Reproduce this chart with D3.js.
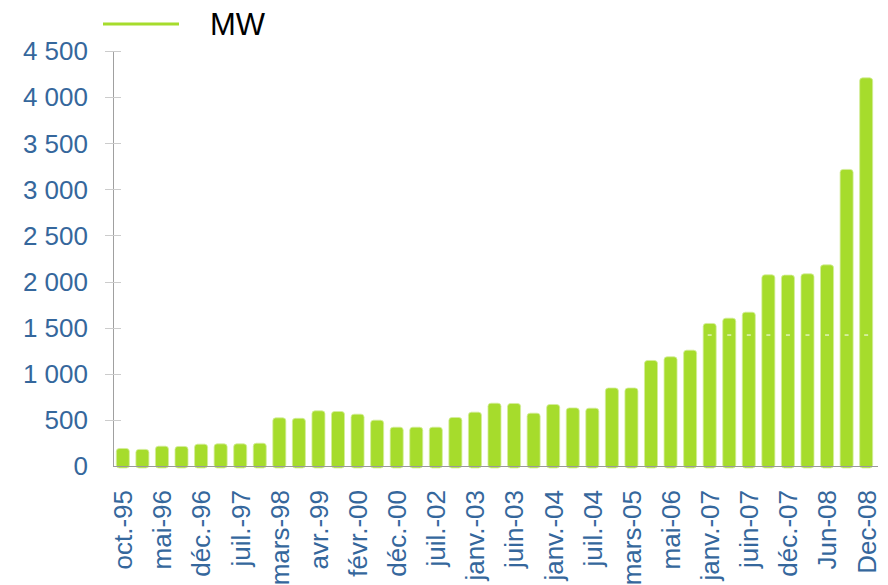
<!DOCTYPE html>
<html>
<head>
<meta charset="utf-8">
<script src="https://cdn.jsdelivr.net/npm/d3@7"></script>
<style>
  body { margin:0; background:#fff; }
  svg { display:block; font-family:"Liberation Sans", Arial, sans-serif; }
</style>
</head>
<body>
<svg id="chart" width="888" height="585"></svg>
<script>
var months = ['oct.-95','janv.-96','mai-96','sept.-96','déc.-96','mars-97','juil.-97','déc.-97',
  'mars-98','oct.-98','avr.-99','oct.-99','févr.-00','juin-00','déc.-00','déc.-01','juil.-02',
  'oct.-02','janv.-03','avr.-03','juin-03','oct.-03','janv.-04','avr.-04','juil.-04','déc.-04',
  'mars-05','oct.-05','mai-06','sept.-06','janv.-07','avr.-07','juin-07','sept.-07','déc.-07',
  'mars-08','Jun-08','Sep-08','Dec-08'];

var mw = [190, 180, 215, 212, 237, 240, 240, 247, 522, 517, 598, 591, 562, 497, 421, 421, 421,
  526, 584, 681, 678, 573, 667, 630, 627, 846, 846, 1144, 1184, 1256, 1546, 1603, 1668, 2073,
  2070, 2084, 2181, 3216, 4209];

var yTicks = [0, 500, 1000, 1500, 2000, 2500, 3000, 3500, 4000, 4500];
var markerLevel = 1420;

var drawChart = function(){
  var svg = d3.select('#chart');
  var plotLeft = 113, plotRight = 876, plotTop = 51, plotBottom = 466;
  var blue = '#35679c';
  var green = '#a6dc2c';

  var x = d3.scaleBand().domain(months).range([plotLeft, plotRight])
    .paddingInner(0.335).paddingOuter(0.17);
  var y = d3.scaleLinear().domain([0, 4500]).range([plotBottom, plotTop]);

  var fmt = function(v){ return d3.format(',')(v).replace(',', ' '); };

  // y axis
  svg.append('line')
    .attr('x1', plotLeft + 0.5).attr('x2', plotLeft + 0.5).attr('y1', plotTop).attr('y2', plotBottom)
    .attr('stroke', '#a0a0a0').attr('stroke-width', 1);

  svg.selectAll('line.ytick')
    .data(yTicks.slice(1))
    .enter().append('line').attr('class','ytick')
    .attr('x1', plotLeft - 8).attr('x2', plotLeft + 8)
    .attr('y1', function(d){ return Math.round(y(d)) + 0.5; })
    .attr('y2', function(d){ return Math.round(y(d)) + 0.5; })
    .attr('stroke', '#cccccc');

  svg.selectAll('text.ylab')
    .data(yTicks)
    .enter().append('text').attr('class','ylab')
    .attr('x', 88).attr('y', function(d){ return y(d); })
    .attr('dy', '0.36em')
    .attr('text-anchor', 'end')
    .attr('font-size', 26)
    .attr('fill', blue)
    .text(fmt);

  // bars
  svg.selectAll('rect.bar')
    .data(mw)
    .enter().append('rect').attr('class','bar')
    .attr('x', function(d, i){ return x(months[i]); })
    .attr('width', x.bandwidth())
    .attr('y', function(d){ return y(d); })
    .attr('height', function(d){ return y(0) - y(d) + 2; })
    .attr('rx', 3)
    .attr('fill', green)
    .attr('stroke', '#d4ee9c')
    .attr('stroke-width', 0.8);

  // faint white marks
  svg.selectAll('line.mark')
    .data(months)
    .enter().append('line').attr('class','mark')
    .attr('x1', function(d){ return x(d) + x.bandwidth()/2 - 2; })
    .attr('x2', function(d){ return x(d) + x.bandwidth()/2 + 2; })
    .attr('y1', y(markerLevel)).attr('y2', y(markerLevel))
    .attr('stroke', '#ffffff').attr('stroke-width', 1);

  // x axis line
  svg.append('line')
    .attr('x1', plotLeft).attr('x2', 878).attr('y1', plotBottom + 0.5).attr('y2', plotBottom + 0.5)
    .attr('stroke', '#999999').attr('stroke-width', 1);

  // x labels (every other month)
  var shown = months.filter(function(d, i){ return i % 2 === 0; });
  svg.selectAll('text.xlab')
    .data(shown)
    .enter().append('text').attr('class','xlab')
    .attr('transform', function(d){
      return 'translate(' + (x(d) + x.bandwidth()/2) + ',490) rotate(-90)';
    })
    .attr('dy', '0.36em')
    .attr('text-anchor', 'end')
    .attr('font-size', 26)
    .attr('fill', blue)
    .text(function(d){ return d; });

  // legend
  svg.append('line')
    .attr('x1', 103).attr('x2', 179).attr('y1', 24).attr('y2', 24)
    .attr('stroke', green).attr('stroke-width', 3);
  svg.append('text')
    .attr('x', 210).attr('y', 35)
    .attr('font-size', 31)
    .attr('fill', '#000')
    .text('MW');
};

drawChart();
</script>
</body>
</html>
